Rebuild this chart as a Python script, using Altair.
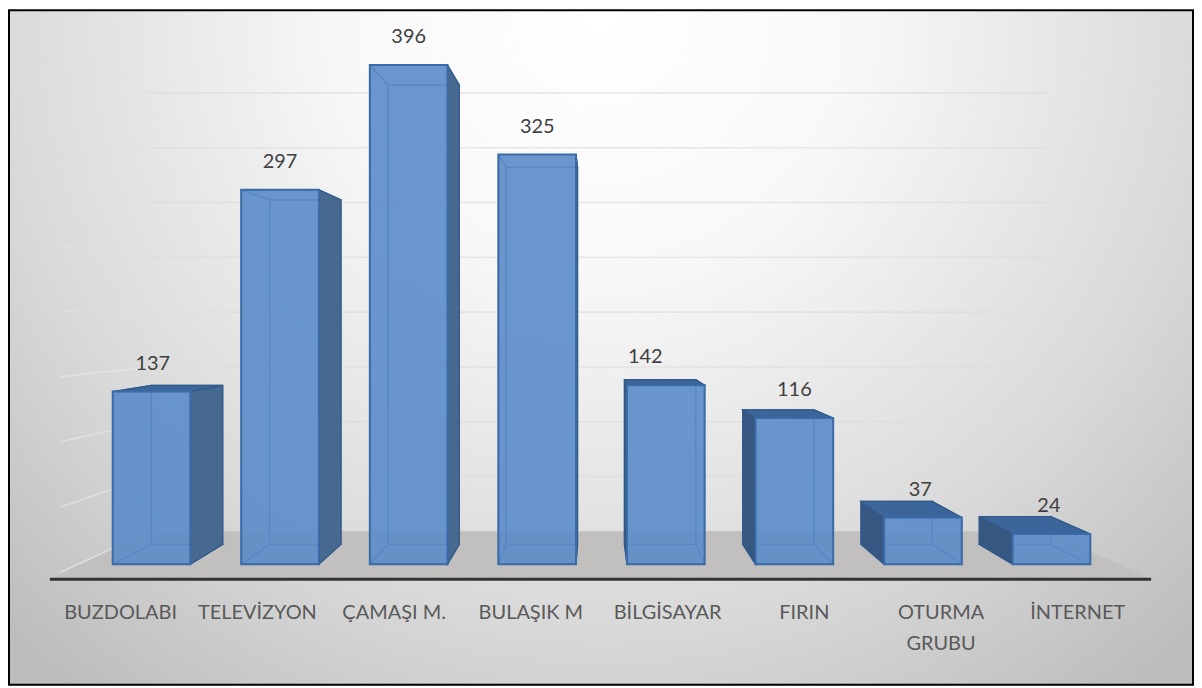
import altair as alt
import pandas as pd

# ---------- data ----------
categories = ["BUZDOLABI", "TELEVİZYON", "ÇAMAŞI M.", "BULAŞIK M", "BİLGİSAYAR", "FIRIN", "OTURMA\nGRUBU", "İNTERNET"]
values = [137, 297, 396, 325, 142, 116, 37, 24]
label_nudge = [0.01, 0.0, 0.0, 0.0, -0.16, 0.0, -0.02, -0.02]   # sideways nudge of the value labels (in bar steps)
wall_levels = [0, 50, 100, 150, 200, 250, 300, 350, 400]

# ---------- layout (pixels of the picture) ----------
W, H = 1190, 679
ORIGIN = 8
STEP = 129.0        # px between bars
CENTER0 = 152.0     # px of the first bar's centre
PXV = 1.265         # px per unit of value
BASE = 565.0        # px of value 0
HALF = 0.302        # half bar width, in bar steps
VX, VY, DEPTH = 597.0, 315.0, 0.08   # vanishing point, bar depth


def ux(px):
    return (px - CENTER0) / STEP


def uy(py):
    return (BASE - py) / PXV


def px(u):
    return CENTER0 + u * STEP


def py(v):
    return BASE - v * PXV


def back(xp, yp, d=DEPTH):
    return xp + d * (VX - xp), yp + d * (VY - yp)


x_scale = alt.Scale(domain=[ux(ORIGIN), ux(ORIGIN + W)], nice=False, zero=False)
y_scale = alt.Scale(domain=[uy(ORIGIN + H), uy(ORIGIN)], nice=False, zero=False)
X = lambda f: alt.X(f, type="quantitative", scale=x_scale, axis=None)
Y = lambda f: alt.Y(f, type="quantitative", scale=y_scale, axis=None)

# ---------- faces ----------
rows = []
pid = 0


def poly(kind, points, fill):
    global pid
    pid += 1
    for k, (a, b) in enumerate(points + points[:1]):
        rows.append(dict(poly=pid, k=k, x=ux(a), y=uy(b), kind=kind, fill=fill))


for i, v in enumerate(values):
    l, r = px(i - HALF), px(i + HALF)
    t, b = py(v), BASE
    lt, rt = back(l, t), back(r, t)
    lb, rb = back(l, b), back(r, b)
    poly("back", [lt, rt, rb, lb], "#4a7cba")
    poly("back", [(l, b), (r, b), rb, lb], "#4a7cba")
    # the far side of the box, seen through the front
    if r < VX - 5:
        poly("back", [(l, t), lt, lb, (l, b)], "#4a7cba")
        poly("side", [(r, t), rt, rb, (r, b)], "#47688f")
    elif l > VX + 5:
        poly("back", [(r, t), rt, rb, (r, b)], "#4a7cba")
        poly("side", [(l, t), lt, lb, (l, b)], "#365781")
    if t > VY:
        poly("side", [(l, t), (r, t), rt, lt], "#3c659b")
    else:
        poly("back", [(l, t), (r, t), rt, lt], "#4a7cba")
faces = pd.DataFrame(rows)

bars = pd.DataFrame({
    "i": range(8),
    "x0": [i - HALF for i in range(8)],
    "x1": [i + HALF for i in range(8)],
    "zero": 0,
    "value": values,
    "lx": [i + n for i, n in enumerate(label_nudge)],
})

cat_df = pd.DataFrame({"label": categories, "x": [ux(121 + 137.2 * i) for i in range(8)], "y": uy(604.0)})

# ---------- wall, floor ----------
wall_rows = []
for g, lv in enumerate(wall_levels):
    y = 532 - 1.1 * lv
    xl = 60
    yl = y + (y - VY) * 0.19
    c = "#e8e8e8" if y > VY else "#e2e2e2"
    wall_rows += [
        dict(g=g, k=0, x=ux(xl), y=uy(yl), c=c),
        dict(g=g, k=1, x=ux(150), y=uy(y), c=c),
    ]
    wall_rows += [
        dict(g=g + 100, k=0, x=ux(150), y=uy(y), c="#dcdcdc"),
        dict(g=g + 100, k=1, x=ux(1050), y=uy(y), c="#dcdcdc"),
    ]
walls = pd.DataFrame(wall_rows)
floor = pd.DataFrame({
    "k": [0, 1, 2, 3],
    "x": [ux(50), ux(1155), ux(1050), ux(150)],
    "y": [uy(580), uy(580), uy(532), uy(532)],
})
axis_line = pd.DataFrame({"x": [ux(50)], "x2": [ux(1155)], "y": [uy(580)]})

# ---------- layers ----------
one = pd.DataFrame({"a": [0]})
background = alt.Chart(one).mark_rect(
    fill=alt.RadialGradient(
        gradient="radial", x1=0.5, y1=0.22, x2=0.5, y2=0.22, r1=0, r2=0.72,
        stops=[
            alt.GradientStop(color="#ffffff", offset=0),
            alt.GradientStop(color="#f8f8f8", offset=0.3),
            alt.GradientStop(color="#dadada", offset=0.7),
            alt.GradientStop(color="#bdbdbd", offset=1),
        ],
    ),
    stroke="#000000",
    strokeWidth=2,
).encode(x=alt.value(1), x2=alt.value(W - 1), y=alt.value(1), y2=alt.value(H - 1))

grid = alt.Chart(walls).mark_line(strokeWidth=1.6, opacity=0.65).encode(
    x=X("x"), y=Y("y"), detail="g:N", order="k:Q", stroke=alt.Stroke("c:N", scale=None)
)
floor_layer = alt.Chart(floor).mark_line(fill="#c2c0be", stroke="#c2c0be", strokeWidth=0.5).encode(
    x=X("x"), y=Y("y"), order="k:Q"
)
axis_layer = alt.Chart(axis_line).mark_rule(color="#333333", strokeWidth=3).encode(
    x=X("x"), x2="x2:Q", y=Y("y")
)
back_faces = alt.Chart(faces[faces.kind == "back"]).mark_line(strokeWidth=1.2, fillOpacity=0.6, stroke="#3d6fac").encode(
    x=X("x"), y=Y("y"), detail="poly:N", order="k:Q", fill=alt.Fill("fill:N", scale=None)
)
side_faces = alt.Chart(faces[faces.kind == "side"]).mark_line(strokeWidth=1.2, stroke="#325a88").encode(
    x=X("x"), y=Y("y"), detail="poly:N", order="k:Q", fill=alt.Fill("fill:N", scale=None)
)
front = alt.Chart(bars).mark_rect(fill="#5f8fcb", fillOpacity=0.78, stroke="#3a6ba8", strokeWidth=2).encode(
    x=X("x0"), x2="x1:Q", y=Y("zero"), y2="value:Q"
)
value_labels = alt.Chart(bars).mark_text(
    font="Lato", fontSize=20, color="#404040", dy=-28
).encode(x=X("lx"), y=Y("value"), text="value:Q")
cat_labels = alt.Chart(cat_df).mark_text(
    font="Lato", fontSize=20, color="#595959", baseline="top", lineBreak="\n", lineHeight=31
).encode(x=X("x"), y=Y("y"), text="label:N")

chart = alt.layer(
    background, grid, floor_layer, axis_layer, back_faces, side_faces, front, value_labels, cat_labels
).properties(
    width=W, height=H, padding=0, autosize=alt.AutoSizeParams(type="none")
).configure_view(stroke=None)

chart.save("out.html", embed_options={"renderer": "svg", "actions": False})
